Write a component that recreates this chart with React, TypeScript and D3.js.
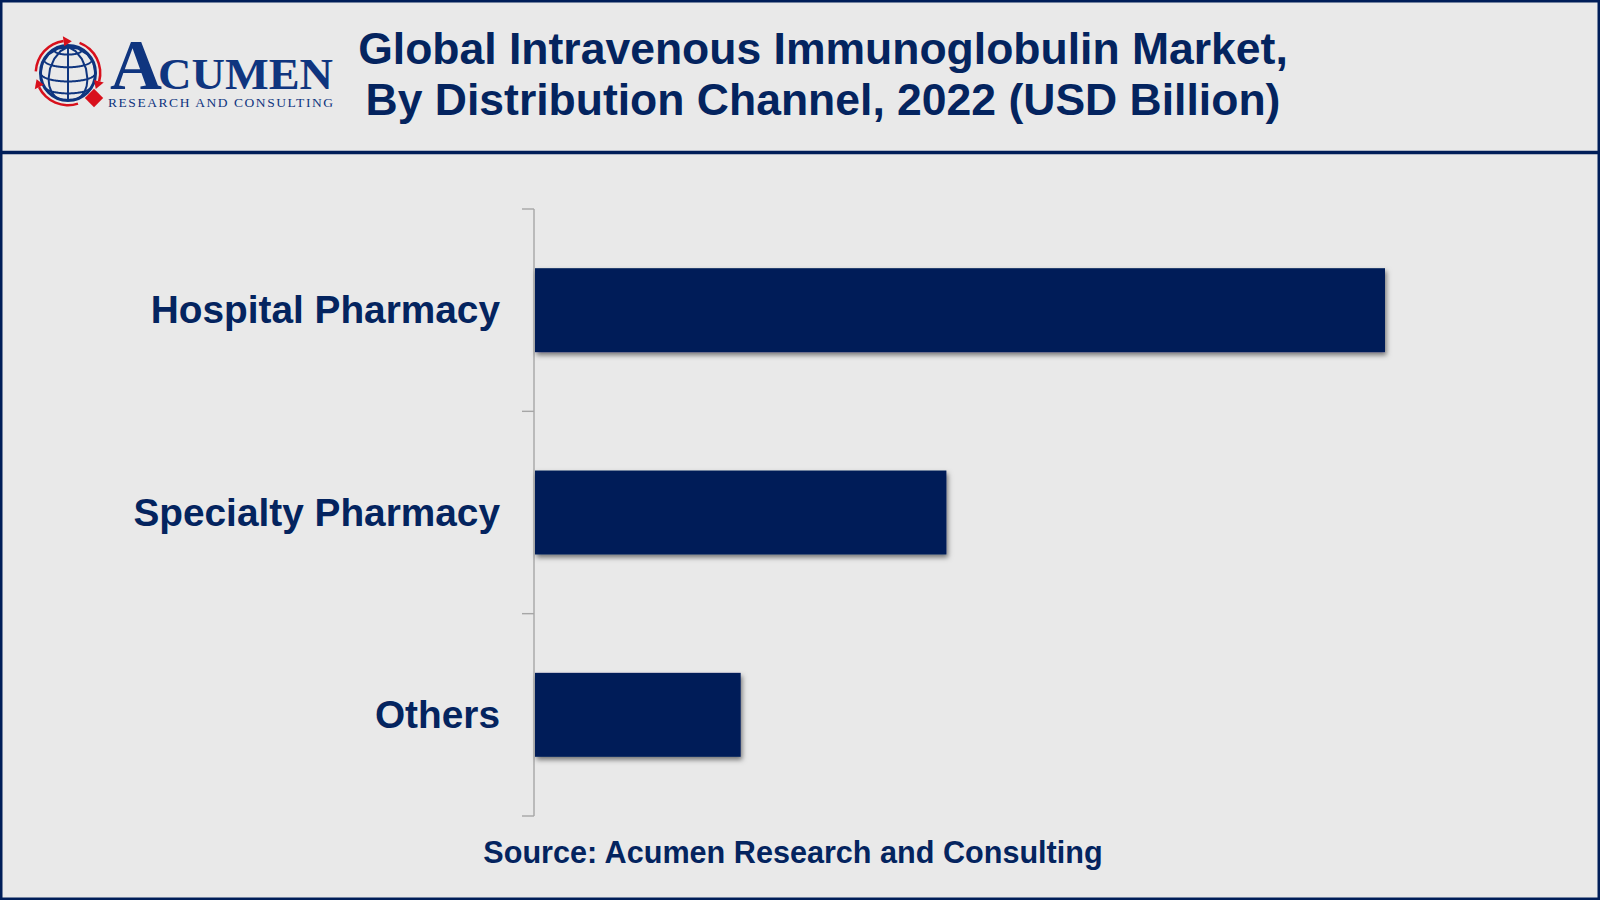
import React from "react";
import * as d3 from "d3";

const categories = ["Hospital Pharmacy", "Specialty Pharmacy", "Others"];
const values = [5.0, 2.42, 1.21];
const titleLines = ["Global Intravenous Immunoglobulin Market,", "By Distribution Channel, 2022 (USD Billion)"];
const sourceText = "Source: Acumen Research and Consulting";
const logoArcs = [
  [-87, -8],
  [21, 105],
  [162, 244],
];

const NAVY = "#001e59";
const TEXT = "#04245f";
const LOGO = "#0f357f";
const RED = "#d8101c";
const FONT = "'Liberation Sans', Arial, sans-serif";
const SERIF = "'Liberation Serif', serif";

function Logo() {
  const cx = 68;
  const cy = 73;
  const r = 27.5;
  const projection = d3
    .geoOrthographic()
    .scale(r)
    .translate([cx, cy])
    .rotate([0, -18, 0])
    .clipAngle(90);
  const path = d3.geoPath(projection);
  const graticule = d3.geoGraticule().step([45, 30])();
  const arc = d3.arc();
  const rad = (a: number) => (a * Math.PI) / 180;
  return (
    <g>
      <path d={path(graticule) || ""} fill="none" stroke={LOGO} strokeWidth={2} />
      <circle cx={cx} cy={cy} r={r} fill="none" stroke={LOGO} strokeWidth={3} />
      {logoArcs.map(([a0, a1], i) => {
        const d = arc({
          innerRadius: 31,
          outerRadius: 33.5,
          startAngle: rad(a0),
          endAngle: rad(a1),
        });
        const tipA = rad(a1);
        const px = (rr: number, a: number) => [cx + rr * Math.sin(a), cy - rr * Math.cos(a)];
        const p1 = px(37, tipA);
        const p2 = px(27, tipA);
        const p3 = px(32, tipA + 0.26);
        return (
          <g key={i}>
            <path d={d || ""} transform={`translate(${cx},${cy})`} fill={RED} />
            <polygon points={[p1, p2, p3].map((p) => p.join(",")).join(" ")} fill={RED} />
          </g>
        );
      })}
      <rect x={87.5} y={91.5} width={13} height={13} transform="rotate(45 94 98)" fill={RED} />
      <text x={110} y={89} fontFamily={SERIF} fontWeight={700} fontSize={72} fill={LOGO}>A</text>
      <text x={158} y={89} fontFamily={SERIF} fontWeight={700} fontSize={44} fill={LOGO} textLength={175} lengthAdjust="spacingAndGlyphs">CUMEN</text>
      <text x={108} y={107} fontFamily={SERIF} fontSize={13.5} fill={LOGO} textLength={225} lengthAdjust="spacing">RESEARCH AND CONSULTING</text>
    </g>
  );
}

export default function App() {
  const x = d3.scaleLinear().domain([0, 5]).range([535, 1385]);
  const y = d3
    .scaleBand<string>()
    .domain(categories)
    .range([209, 816])
    .paddingInner(0.585)
    .paddingOuter(0.2925);
  const ticks = [...categories.map((c) => y(c)! - (y.step() * 0.585) / 2), 816];

  return (
    <svg
      width={1600}
      height={900}
      viewBox="0 0 1600 900"
      style={{ position: "absolute", left: 0, top: 0, display: "block" }}
    >
      <defs>
        <filter id="barShadow" x="-5%" y="-10%" width="110%" height="130%">
          <feDropShadow dx={1.5} dy={3} stdDeviation={2.6} floodColor="#000" floodOpacity={0.5} />
        </filter>
      </defs>
      <rect x={0} y={0} width={1600} height={900} fill="#e9e9e9" />
      <rect x={1.25} y={1.25} width={1597.5} height={897.5} fill="none" stroke={NAVY} strokeWidth={2.5} />
      <line x1={0} x2={1600} y1={152.5} y2={152.5} stroke={NAVY} strokeWidth={3.6} />

      <Logo />

      {titleLines.map((t, i) => (
        <text
          key={t}
          x={823}
          y={64 + i * 51}
          textAnchor="middle"
          fontFamily={FONT}
          fontWeight={700}
          fontSize={44.5}
          fill={TEXT}
        >
          {t}
        </text>
      ))}

      <line x1={534} x2={534} y1={209} y2={816} stroke="#a6a6a6" strokeWidth={1.4} />
      {ticks.map((t) => (
        <line key={t} x1={522} x2={534} y1={t} y2={t} stroke="#a6a6a6" strokeWidth={1.4} />
      ))}

      {categories.map((c, i) => (
        <g key={c}>
          <rect
            x={x(0)}
            y={y(c)}
            width={x(values[i]) - x(0)}
            height={y.bandwidth()}
            fill={NAVY}
            filter="url(#barShadow)"
          />
          <text
            x={500}
            y={y(c)! + y.bandwidth() / 2 + 13}
            textAnchor="end"
            fontFamily={FONT}
            fontWeight={700}
            fontSize={38.8}
            fill={TEXT}
          >
            {c}
          </text>
        </g>
      ))}

      <text
        x={793}
        y={863}
        textAnchor="middle"
        fontFamily={FONT}
        fontWeight={700}
        fontSize={30.6}
        fill={TEXT}
      >
        {sourceText}
      </text>
    </svg>
  );
}
